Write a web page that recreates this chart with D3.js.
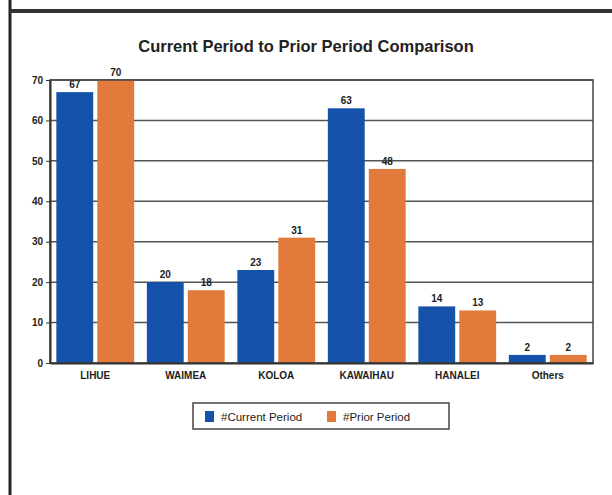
<!DOCTYPE html>
<html>
<head>
<meta charset="utf-8">
<script src="https://cdn.jsdelivr.net/npm/d3@7"></script>
<style>
  body { margin: 0; background: #fff; }
  text { font-family: "Liberation Sans", Arial, sans-serif; }
</style>
</head>
<body>
<svg id="chart" width="612" height="495"></svg>
<script>
var categories = ["LIHUE", "WAIMEA", "KOLOA", "KAWAIHAU", "HANALEI", "Others"];
var currentPeriod = [67, 20, 23, 63, 14, 2];
var priorPeriod = [70, 18, 31, 48, 13, 2];
var seriesNames = ["#Current Period", "#Prior Period"];
var yTicks = [0, 10, 20, 30, 40, 50, 60, 70];

var colors = ["#1552aa", "#e27a3c"];

var svg = d3.select("#chart");
var margin = {top: 80, right: 19, bottom: 132, left: 50},
    width = 612 - margin.left - margin.right,
    height = 495 - margin.top - margin.bottom;

// page frame
svg.append("line").attr("x1", 10).attr("x2", 10).attr("y1", 0).attr("y2", 495)
    .style("stroke", "#222").style("stroke-width", 3);
svg.append("line").attr("x1", 10).attr("x2", 612).attr("y1", 11).attr("y2", 11)
    .style("stroke", "#333").style("stroke-width", 4);

svg.append("text")
    .attr("x", 306).attr("y", 52)
    .attr("text-anchor", "middle")
    .style("font-size", "16.5px").style("font-weight", "bold")
    .style("fill", "#222")
    .text("Current Period to Prior Period Comparison");

var g = svg.append("g").attr("transform", "translate(" + margin.left + "," + margin.top + ")");

var x0 = d3.scaleBand().domain(categories).range([0, width]).paddingInner(0.14).paddingOuter(0.07);
var x1 = d3.scaleBand().domain([0, 1]).range([0, x0.bandwidth()]).paddingInner(0.1);
var y = d3.scaleLinear().domain([0, 70]).range([height, 0]);

// grid
g.selectAll(".grid").data(yTicks.slice(1)).enter().append("line")
    .attr("class", "grid")
    .attr("x1", 0).attr("x2", width)
    .attr("y1", function(d){ return y(d); }).attr("y2", function(d){ return y(d); })
    .style("stroke", "#555").style("stroke-width", 1.5);

var data = categories.map(function(c, i){ return {cat: c, vals: [currentPeriod[i], priorPeriod[i]]}; });

var groups = g.selectAll(".cat").data(data).enter().append("g")
    .attr("class", "cat")
    .attr("transform", function(d){ return "translate(" + x0(d.cat) + ",0)"; });

groups.selectAll("rect").data(function(d){ return d.vals; }).enter().append("rect")
    .attr("x", function(d, i){ return x1(i); })
    .attr("y", function(d){ return y(d); })
    .attr("width", x1.bandwidth())
    .attr("height", function(d){ return height - y(d); })
    .style("fill", function(d, i){ return colors[i]; });

groups.selectAll(".val").data(function(d){ return d.vals; }).enter().append("text")
    .attr("class", "val")
    .attr("x", function(d, i){ return x1(i) + x1.bandwidth() / 2; })
    .attr("y", function(d){ return y(d) - 4; })
    .attr("text-anchor", "middle")
    .style("font-size", "10px").style("font-weight", "bold").style("fill", "#222")
    .text(function(d){ return d; });

// plot border
g.append("rect").attr("x", 0).attr("y", 0).attr("width", width).attr("height", height)
    .style("fill", "none").style("stroke", "#444").style("stroke-width", 1.5);

var yAxis = g.append("g").call(d3.axisLeft(y).tickValues(yTicks).tickSize(4).tickSizeOuter(0));
yAxis.select(".domain").style("stroke", "#333").style("stroke-width", 2);
yAxis.selectAll(".tick line").style("stroke", "#333");
yAxis.selectAll("text").style("font-size", "10px").style("font-weight", "bold").style("fill", "#222");

var xAxis = g.append("g").attr("transform", "translate(0," + height + ")")
    .call(d3.axisBottom(x0).tickSize(0).tickPadding(9));
xAxis.select(".domain").style("stroke", "#333").style("stroke-width", 2);
xAxis.selectAll("text").style("font-size", "10px").style("font-weight", "bold").style("fill", "#222");

// legend
var lg = svg.append("g").attr("transform", "translate(193,403)");
lg.append("rect").attr("width", 256).attr("height", 26)
    .style("fill", "#fff").style("stroke", "#444").style("stroke-width", 1.5);
var lx = [12, 134];
seriesNames.forEach(function(n, i){
    lg.append("rect").attr("x", lx[i]).attr("y", 8).attr("width", 9).attr("height", 11)
        .style("fill", colors[i]);
    lg.append("text").attr("x", lx[i] + 16).attr("y", 17.5)
        .style("font-size", "11.5px").style("fill", "#222")
        .text(n);
});
</script>
</body>
</html>
